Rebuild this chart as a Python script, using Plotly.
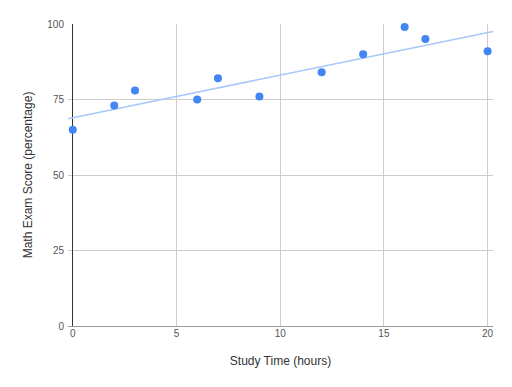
import numpy as np
import plotly.graph_objects as go

study_hours = [0, 2, 3, 6, 7, 9, 12, 14, 16, 17, 20]
math_scores = [65, 73, 78, 75, 82, 76, 84, 90, 99, 95, 91]
x_ticks = [0, 5, 10, 15, 20]
y_ticks = [0, 25, 50, 75, 100]
x_range = [-0.23, 20.26]
y_range = [0, 100]

slope, intercept = np.polyfit(study_hours, math_scores, 1)
trend_x = np.array(x_range)
trend_y = slope * trend_x + intercept

fig = go.Figure()
fig.add_trace(go.Scatter(
    x=trend_x, y=trend_y, mode="lines",
    line=dict(color="#a8c7fa", width=1.5),
    hoverinfo="skip", showlegend=False, cliponaxis=True,
))
fig.add_trace(go.Scatter(
    x=study_hours, y=math_scores, mode="markers",
    marker=dict(color="#4285f4", size=8, line=dict(width=0)),
    showlegend=False, cliponaxis=False,
))

font = "Liberation Sans, Arial, sans-serif"
fig.update_layout(
    width=512, height=387,
    margin=dict(l=68, r=19, t=24, b=61, autoexpand=False),
    paper_bgcolor="white", plot_bgcolor="white",
    font=dict(family=font, size=10, color="#444"),
    showlegend=False,
)
fig.update_xaxes(
    range=x_range, tickvals=x_ticks, ticktext=[str(v) for v in x_ticks],
    showgrid=True, gridcolor="#cccccc", gridwidth=1,
    zeroline=True, zerolinecolor="#333333", zerolinewidth=1,
    showline=False, ticks="",
    tickfont=dict(family=font, size=10, color="#555"),
    title=dict(text="Study Time (hours)", font=dict(family=font, size=12, color="#333"), standoff=18),
    automargin=False,
)
fig.update_yaxes(
    range=y_range, tickvals=y_ticks, ticktext=[str(v) for v in y_ticks],
    showgrid=True, gridcolor="#cccccc", gridwidth=1,
    zeroline=True, zerolinecolor="#999999", zerolinewidth=1,
    showline=False, ticks="", ticklabelstandoff=3,
    tickfont=dict(family=font, size=10, color="#555"),
    title=dict(text="Math Exam Score (percentage)", font=dict(family=font, size=12, color="#333"), standoff=12),
    automargin=False,
)

fig.write_html("out.html")
